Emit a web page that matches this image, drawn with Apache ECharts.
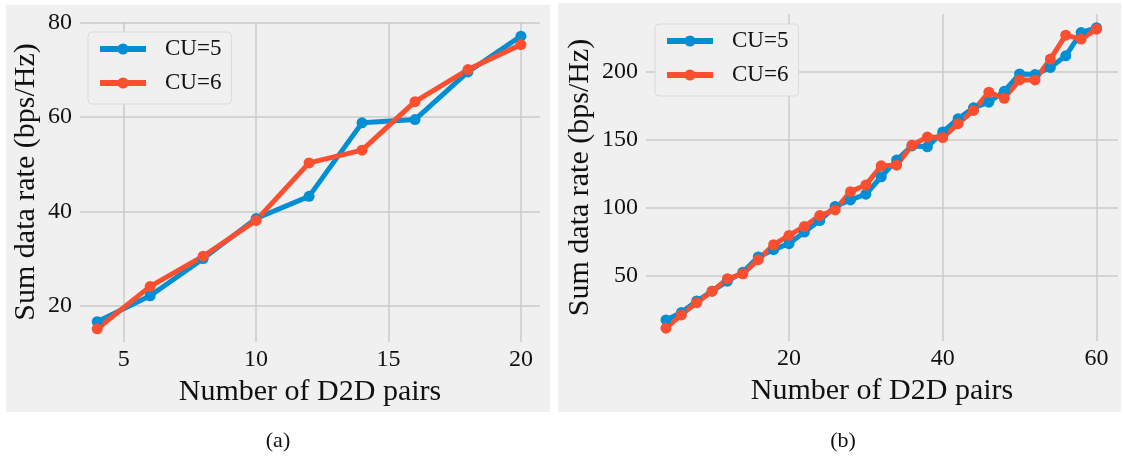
<!DOCTYPE html>
<html>
<head>
<meta charset="utf-8">
<script src="https://cdn.jsdelivr.net/npm/echarts@6/dist/echarts.min.js"></script>
<style>
  html, body { margin: 0; padding: 0; background: #fff; }
  #chart { width: 1123px; height: 458px; }
</style>
</head>
<body>
<div id="chart"></div>
<script>
// (a) small networks
const pairsA = [4, 6, 8, 10, 12, 14, 16, 18, 20];
const cu5A = [16.6, 22.1, 30.0, 38.5, 43.2, 58.8, 59.5, 69.6, 77.2];
const cu6A = [15.1, 24.1, 30.5, 38.1, 50.3, 53.0, 63.3, 70.1, 75.4];
const xTicksA = [5, 10, 15, 20];
const yTicksA = [20, 40, 60, 80];

// (b) larger networks
const pairsB = [4, 6, 8, 10, 12, 14, 16, 18, 20, 22, 24, 26, 28, 30, 32, 34, 36, 38, 40, 42, 44, 46, 48, 50, 52, 54, 56, 58, 60];
const cu5B = [17.9, 23.3, 31.8, 39.0, 46.3, 52.9, 64.1, 69.4, 73.8, 82.3, 90.7, 101.0, 105.8, 110.0, 122.8, 135.0, 145.4, 144.7, 155.6, 165.3, 173.3, 177.4, 185.4, 198.1, 197.6, 202.9, 211.4, 228.4, 232.0];
const cu6B = [11.9, 21.6, 30.6, 39.0, 48.1, 51.7, 62.1, 73.0, 79.8, 86.4, 94.4, 98.5, 111.9, 116.8, 130.8, 131.3, 145.9, 151.9, 151.5, 161.7, 171.4, 184.7, 180.3, 193.7, 193.7, 209.0, 226.5, 223.6, 230.9];
const xTicksB = [20, 40, 60];
const yTicksB = [50, 100, 150, 200];

const FONT = 'Liberation Serif';
const BLUE = '#008fd5';
const RED = '#fc4f30';

const chart = echarts.init(document.getElementById('chart'));

function zip(xs, ys) {
  return xs.map((x, i) => [x, ys[i]]);
}

function xAxis(grid, min, max, ticks) {
  return {
    type: 'value', gridIndex: grid, min: min, max: max,
    name: 'Number of D2D pairs', nameLocation: 'middle', nameGap: 33,
    nameTextStyle: { fontFamily: FONT, fontSize: 30, color: '#111' },
    axisLine: { show: false },
    axisTick: { show: false, customValues: ticks },
    axisLabel: { customValues: ticks, fontFamily: FONT, fontSize: 24, color: '#111', margin: 6 },
    splitLine: { show: true, lineStyle: { color: '#cbcbcb', width: 1.5 } }
  };
}

function yAxis(grid, min, max, ticks, gap) {
  return {
    type: 'value', gridIndex: grid, min: min, max: max,
    name: 'Sum data rate (bps/Hz)', nameLocation: 'middle', nameGap: gap,
    nameTextStyle: { fontFamily: FONT, fontSize: 30, color: '#111' },
    axisLine: { show: false },
    axisTick: { show: false, customValues: ticks },
    axisLabel: { customValues: ticks, fontFamily: FONT, fontSize: 24, color: '#111', margin: 8 },
    splitLine: { show: true, lineStyle: { color: '#cbcbcb', width: 1.5 } }
  };
}

function line(name, color, grid, data) {
  return {
    name: name, type: 'line', xAxisIndex: grid, yAxisIndex: grid,
    data: data, symbol: 'circle', symbolSize: 11,
    itemStyle: { color: color },
    lineStyle: { color: color, width: 5 },
    animation: false
  };
}

function legend(left, top) {
  return {
    left: left, top: top, orient: 'vertical',
    data: ['CU=5', 'CU=6'],
    itemWidth: 46, itemHeight: 14, itemGap: 10,
    padding: [5, 10, 9, 9],
    backgroundColor: '#f0f0f0', borderColor: '#dadada', borderWidth: 1, borderRadius: 4,
    lineStyle: { width: 6 },
    textStyle: { fontFamily: FONT, fontSize: 23, color: '#111', lineHeight: 24, padding: [0, 0, 0, 14] }
  };
}

chart.setOption({
  animation: false,
  graphic: [
    { type: 'rect', z: -10, silent: true, shape: { x: 6, y: 5, width: 544, height: 407 }, style: { fill: '#f0f0f0' } },
    { type: 'rect', z: -10, silent: true, shape: { x: 558, y: 3, width: 563, height: 409 }, style: { fill: '#f0f0f0' } },
    { type: 'text', x: 278, y: 441, style: { text: '(a)', fontFamily: FONT, fontSize: 22, fill: '#111', align: 'center', verticalAlign: 'middle' } },
    { type: 'text', x: 843, y: 441, style: { text: '(b)', fontFamily: FONT, fontSize: 22, fill: '#111', align: 'center', verticalAlign: 'middle' } }
  ],
  grid: [
    { left: 80, top: 22, width: 460, height: 320 },
    { left: 646, top: 14, width: 472, height: 327 }
  ],
  legend: [legend(88, 32), legend(655, 24)],
  xAxis: [xAxis(0, 3.35, 20.72, xTicksA), xAxis(1, 1.4, 62.8, xTicksB)],
  yAxis: [yAxis(0, 12.3, 80.2, yTicksA, 39), yAxis(1, 2.5, 242, yTicksB, 51)],
  series: [
    line('CU=5', BLUE, 0, zip(pairsA, cu5A)),
    line('CU=6', RED, 0, zip(pairsA, cu6A)),
    line('CU=5', BLUE, 1, zip(pairsB, cu5B)),
    line('CU=6', RED, 1, zip(pairsB, cu6B))
  ]
});
</script>
</body>
</html>
